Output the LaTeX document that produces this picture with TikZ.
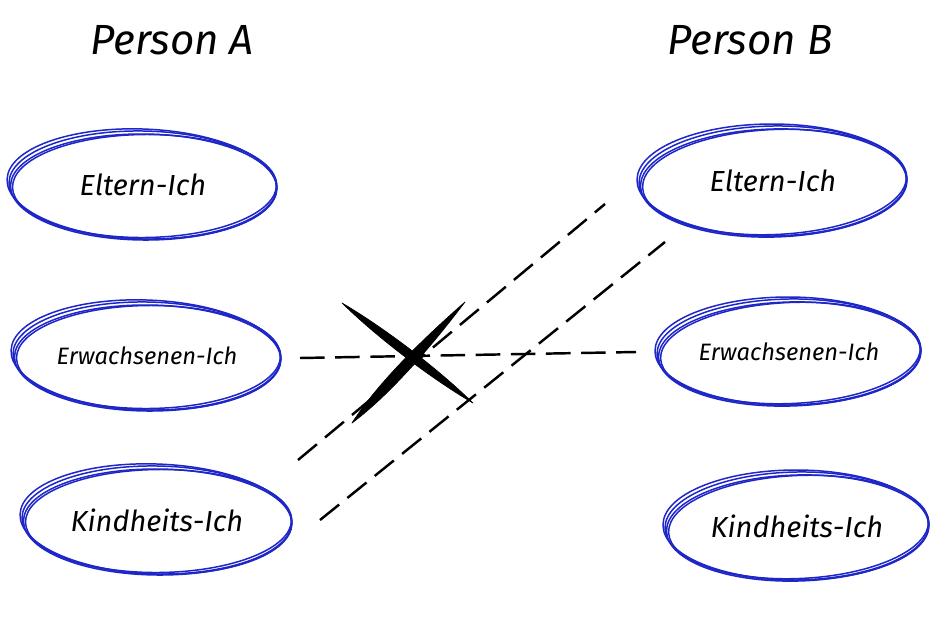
\documentclass[tikz,border=0pt]{standalone}
\usepackage{fontspec}
\setmainfont{Fira Sans}
\usetikzlibrary{positioning, calc}
\definecolor{penblue}{RGB}{30, 38, 200}
\tikzset{
  sketch/.style={draw=penblue, line width=0.85pt},
  egotext/.style={font=\itshape\fontsize{16.5}{19}\selectfont, inner sep=0pt},
  smallego/.style={font=\itshape\fontsize{13.5}{16}\selectfont},
  title/.style={font=\itshape\fontsize{24}{28}\selectfont, inner sep=0pt},
  transaction/.style={line width=1.4pt, dash pattern=on 14pt off 6pt, black},
  brush/.style={fill=black, draw=black, line width=0.4pt, line join=round}
}
\newcommand{\sketchellipse}[4]{
  \draw[sketch] (#1.center) ellipse [x radius=#2, y radius=#3, rotate=#4];
  \draw[sketch] ($(#1.center)+(1.5,1)$) ellipse [x radius=#2-2, y radius=#3-2.5, rotate=#4+1.5];
  \draw[sketch] ($(#1.center)+(-1,-1)$) ellipse [x radius=#2+1, y radius=#3+1, rotate=#4-1];
  \draw[sketch] ($(#1.center)+(0.5,2)$) ellipse [x radius=#2-1, y radius=#3-1, rotate=#4+0.5];
}

\begin{document}
\begin{tikzpicture}[x=0.02cm, y=-0.02cm]
\useasboundingbox (0,0) rectangle (948,620);

% Titles
\node[title] (personA) at (172,40) {Person A};
\node[title] (personB) at (750,40) {Person B};

% Person A
\node[egotext] (eltA) at (143,185) {Eltern-Ich};
\node[egotext, smallego] (erwA) at (147,356) {Erwachsenen-Ich};
\node[egotext] (kinA) at (157,520) {Kindheits-Ich};
\sketchellipse{eltA}{134}{54}{-1}
\sketchellipse{erwA}{134}{54}{-1}
\sketchellipse{kinA}{135}{54}{-1}

% Person B
\node[egotext] (eltB) at (773,181) {Eltern-Ich};
\node[egotext, smallego] (erwB) at (789,352) {Erwachsenen-Ich};
\node[egotext] (kinB) at (797,526) {Kindheits-Ich};
\sketchellipse{eltB}{134}{55}{1}
\sketchellipse{erwB}{132}{53}{1}
\sketchellipse{kinB}{132}{54}{1}

% Ends of the transactions
\coordinate (erwA_out) at ($(erwA.center)+(153,2)$);
\coordinate (erwB_in) at ($(erwB.center)+(-153,0)$);
\coordinate (kinA_top) at ($(kinA.center)+(141,-60)$);
\coordinate (kinA_out) at ($(kinA.center)+(163,0)$);
\coordinate (eltB_left) at ($(eltB.center)+(-168,23)$);
\coordinate (eltB_low) at ($(eltB.center)+(-108,61)$);

% Transactions
\draw[transaction] (erwA_out) -- (erwB_in);
\draw[transaction] (kinA_top) -- (eltB_left);
\draw[transaction] (kinA_out) -- (eltB_low);

% Cross
\filldraw[brush] (342,303) .. controls (377.7,337.8) and (430.1,377.8) .. (473,403)
  .. controls (437.3,368.2) and (384.9,328.2) .. cycle;
\filldraw[brush] (465,302) .. controls (434.8,341.7) and (392.5,392.8) .. (352,423)
  .. controls (379.3,380.6) and (427.4,334.9) .. cycle;

\end{tikzpicture}
\end{document}
